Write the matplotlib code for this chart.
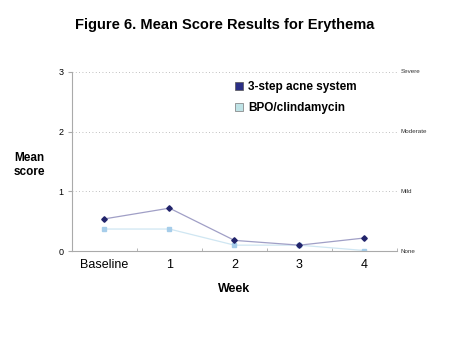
import matplotlib
matplotlib.use("Agg")
import matplotlib.pyplot as plt
from matplotlib.lines import Line2D

plt.rcParams['font.family'] = ['Liberation Sans', 'DejaVu Sans']

weeks = ["Baseline", "1", "2", "3", "4"]
acne_system = [0.54, 0.72, 0.18, 0.10, 0.22]
bpo_clinda = [0.37, 0.37, 0.10, 0.10, 0.01]
severity = ["None", "Mild", "Moderate", "Severe"]

fig = plt.figure(figsize=(4.5, 3.38), dpi=100)
ax = fig.add_axes([0.16, 0.257, 0.722, 0.53])

x = list(range(len(weeks)))
ax.plot(x, acne_system, color='#a09fc6', lw=0.9, marker='D', ms=2.8,
        mfc='#22246b', mec='#22246b', zorder=3)
ax.plot(x, bpo_clinda, color='#cfe6f2', lw=0.9, marker='s', ms=3.3,
        mfc='#a6cdea', mec='#a6cdea', zorder=2)

ax.set_xlim(-0.5, len(weeks) - 0.5)
ax.set_ylim(0, 3)
ax.set_yticks([0, 1, 2, 3])
ax.set_yticklabels(['0', '1', '2', '3'], fontsize=6.5)
ax.set_xticks(x)
ax.set_xticklabels(weeks, fontsize=9)
ax.set_xticks([i + 0.5 for i in range(-1, len(weeks))], minor=True)
ax.tick_params(axis='x', which='major', length=0, pad=6)
ax.tick_params(axis='x', which='minor', length=2.5, color='#aaaaaa', direction='in')
ax.tick_params(axis='y', length=3, color='#aaaaaa', pad=3)

for s in ['top', 'right']:
    ax.spines[s].set_visible(False)
for s in ['left', 'bottom']:
    ax.spines[s].set_color('#aaaaaa')
    ax.spines[s].set_linewidth(0.8)

for yv in [1, 2, 3]:
    ax.axhline(yv, color='#aaaaaa', lw=0.6, ls=(0, (1, 3)), zorder=0)

for yv, lab in enumerate(severity):
    ax.text(1.012, yv, lab, transform=ax.get_yaxis_transform(),
            fontsize=4.5, va='center', ha='left', color='#333333')

ax.set_xlabel("Week", fontsize=9, fontweight='bold', labelpad=8)
fig.text(0.031, 0.512, "Mean\nscore", fontsize=8.5, fontweight='bold',
         ha='left', va='center', multialignment='left')
fig.text(0.5, 0.925, "Figure 6. Mean Score Results for Erythema",
         fontsize=10.5, fontweight='bold', ha='center', va='center')

handles = [
    Line2D([], [], ls='none', marker='s', ms=6, mfc='#2b2f85', mec='#555555', mew=0.5),
    Line2D([], [], ls='none', marker='s', ms=6, mfc='#bfe3e6', mec='#777777', mew=0.5),
]
leg = ax.legend(handles, ["3-step acne system", "BPO/clindamycin"],
                loc='upper left', bbox_to_anchor=(0.455, 1.02), frameon=True,
                prop={'size': 8.5, 'weight': 'bold'}, handletextpad=0.3,
                labelspacing=0.7, borderpad=0.6, handlelength=1.0)
leg.get_frame().set_edgecolor('none')
leg.get_frame().set_facecolor('white')
leg.get_frame().set_alpha(1)

fig.savefig("out.png", dpi=100)
